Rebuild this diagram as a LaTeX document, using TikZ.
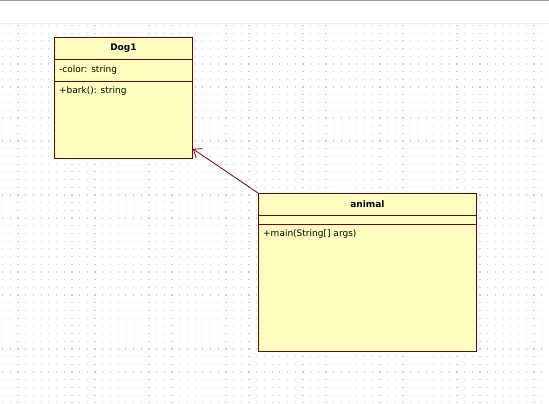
\documentclass[tikz,border=0pt]{standalone}
\usepackage{fontspec}
\setmainfont{DejaVu Sans}
\usetikzlibrary{arrows.meta,calc,positioning}
\definecolor{Maroon}{HTML}{800000}
\definecolor{Cream}{HTML}{FFFFC0}
\definecolor{Dot}{HTML}{CFCFCF}
\definecolor{Rule}{HTML}{9A9A9A}
\tikzset{
  classbox/.style={draw=Maroon,fill=Cream,line width=0.9pt,inner sep=0pt,anchor=north west},
  member/.style={anchor=west,inner sep=0pt,font=\fontsize{9}{11}\selectfont},
  title/.style={inner sep=0pt,font=\fontsize{9}{11}\selectfont\bfseries}
}

\begin{document}
\begin{tikzpicture}[x=1pt,y=-1pt]
    \useasboundingbox (0,0) rectangle (549,404);
    \fill[white] (0,0) rectangle (549,404);
    % window frame and dotted canvas
    \draw[Rule,line width=1.5pt] (0,0.75)--(549,0.75);
    \draw[gray!15,line width=1pt] (0,24)--(549,24);
    \foreach \r in {0,...,49}
      \draw[Dot,line width=1.2pt,dash pattern=on 1.2pt off 6.5pt] (2,25.5+7.7*\r)--(549,25.5+7.7*\r);
    % Dog1
    \node[classbox,minimum width=138pt,minimum height=121pt] (dog) at (54,37) {};
    \node[title] (dogname) at ($(dog.north)+(0,11)$) {Dog1};
    \draw[Maroon,line width=0.9pt] ($(dog.north west)+(0,22)$) coordinate (dogA) -- (dogA -| dog.east);
    \draw[Maroon,line width=0.9pt] ($(dog.north west)+(0,44.5)$) coordinate (dogB) -- (dogB -| dog.east);
    \node[member] (dogattr) at ($(dogA)+(5,11)$) {-color: string};
    \node[member] (dogop) at ($(dogB)+(5,10)$) {+bark(): string};
    % animal
    \node[classbox,minimum width=218pt,minimum height=158pt] (animal) at (258,193) {};
    \node[title] (animalname) at ($(animal.north)+(0,11)$) {animal};
    \draw[Maroon,line width=0.9pt] ($(animal.north west)+(0,22)$) coordinate (animalA) -- (animalA -| animal.east);
    \draw[Maroon,line width=0.9pt] ($(animal.north west)+(0,31)$) coordinate (animalB) -- (animalB -| animal.east);
    \node[member] (animalop) at ($(animalB)+(5,10)$) {+main(String[] args)};
    % association
    \coordinate (tip) at ($(dog.south east)+(0,-10)$);
    \draw[Maroon,line width=0.8pt,-{Straight Barb[length=7pt,width=11pt]}] (animal.north west) -- (tip);
\end{tikzpicture}
\end{document}
